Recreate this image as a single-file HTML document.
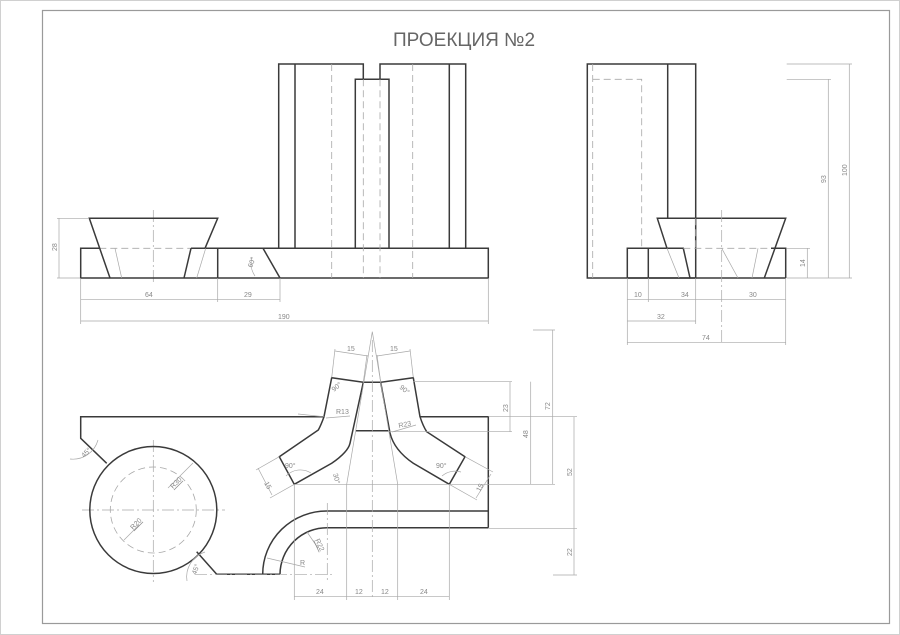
<!DOCTYPE html>
<html><head><meta charset="utf-8"><style>
html,body{margin:0;padding:0;background:#fff}
svg{display:block}
.b{stroke:#3a3a3a;stroke-width:1.5;fill:none}
.t{stroke:#a8a8a8;stroke-width:0.7;fill:none}
.d{stroke:#a8a8a8;stroke-width:0.8;fill:none;stroke-dasharray:7 4}
.c{stroke:#a8a8a8;stroke-width:0.7;fill:none;stroke-dasharray:12 3 2 3}
text{font-family:"Liberation Sans",sans-serif;fill:#888;font-size:7px}
</style></head><body>
<svg width="900" height="635" viewBox="0 0 900 635">
<rect x="0.5" y="0.5" width="899" height="634" fill="none" stroke="#d0d0d0" stroke-width="1"/>
<rect x="42.5" y="10.5" width="847" height="613" fill="none" stroke="#9a9a9a" stroke-width="1.2"/>
<text x="464" y="46" text-anchor="middle" style="font-size:19px;fill:#666">ПРОЕКЦИЯ №2</text>

<!-- FRONT VIEW -->
<line class="c" x1="153.3" y1="210" x2="153.3" y2="285"/>
<polyline class="b" points="99.3,248.3 80.7,248.3 80.7,278 488.3,278 488.3,248.3 191,248.3"/>
<line class="d" x1="99.3" y1="248.3" x2="191" y2="248.3"/>
<line class="b" x1="217.7" y1="248.3" x2="217.7" y2="278"/>
<polyline class="b" points="110,278 89.3,218.3 217.7,218.3 205,248.3"/>
<line class="b" x1="191" y1="248.3" x2="184" y2="278"/>
<line class="t" x1="115" y1="248.3" x2="121.7" y2="278"/>
<line class="t" x1="205.7" y1="248.3" x2="196.7" y2="278"/>
<line class="b" x1="263" y1="248.3" x2="280" y2="278"/>
<path class="t" d="M252,257 A22,22 0 0 0 255,276"/>
<text transform="translate(252,268) rotate(-70)">60°</text>
<polyline class="b" points="278.7,248.3 278.7,64 363.3,64 363.3,79.3 380,79.3 380,64 465.7,64 465.7,248.3"/>
<line class="b" x1="295" y1="64" x2="295" y2="248.3"/>
<line class="b" x1="449.3" y1="64" x2="449.3" y2="248.3"/>
<polyline class="b" points="355.3,248.3 355.3,79.3 389,79.3 389,248.3"/>
<line class="d" x1="331.7" y1="64" x2="331.7" y2="278"/>
<line class="d" x1="412.7" y1="64" x2="412.7" y2="278"/>
<line class="d" x1="363.3" y1="79.3" x2="363.3" y2="278"/>
<line class="d" x1="380" y1="79.3" x2="380" y2="278"/>
<!-- dims front -->
<line class="t" x1="57" y1="218.3" x2="89" y2="218.3"/>
<line class="t" x1="57" y1="278" x2="80" y2="278"/>
<line class="t" x1="59" y1="218.3" x2="59" y2="278"/>
<text transform="translate(57,251) rotate(-90)">28</text>
<line class="t" x1="80.7" y1="278" x2="80.7" y2="324"/>
<line class="t" x1="217.7" y1="278" x2="217.7" y2="302"/>
<line class="t" x1="280" y1="278" x2="280" y2="302"/>
<line class="t" x1="488.3" y1="278" x2="488.3" y2="324"/>
<line class="t" x1="80.7" y1="299.3" x2="280" y2="299.3"/>
<line class="t" x1="80.7" y1="321" x2="488.3" y2="321"/>
<text x="145" y="297">64</text><text x="244" y="297">29</text><text x="278" y="319">190</text>

<!-- SIDE VIEW -->
<rect class="b" x="587.3" y="64" width="108.4" height="214"/>
<line class="b" x1="667.7" y1="64" x2="667.7" y2="218.3"/>
<line class="d" x1="592.7" y1="64" x2="592.7" y2="278"/>
<polyline class="d" points="592.7,79.3 641.7,79.3 641.7,248.3"/>
<polyline class="b" points="627.3,278 627.3,248.3 683.3,248.3 690,278"/>
<line class="b" x1="648.3" y1="248.3" x2="648.3" y2="278"/>
<line class="b" x1="627.3" y1="278" x2="785.7" y2="278"/>
<polyline class="b" points="667,248.3 657.3,218.3 785.7,218.3 764.3,278"/>
<polyline class="b" points="771,248.3 785.7,248.3 785.7,278"/>
<line class="d" x1="683.3" y1="248.3" x2="771" y2="248.3"/>
<line class="d" x1="695.7" y1="218.3" x2="695.7" y2="248.3"/>
<line class="c" x1="721.7" y1="210" x2="721.7" y2="345"/>
<line class="t" x1="667" y1="248.3" x2="679" y2="278"/>
<line class="t" x1="721.7" y1="248.3" x2="738" y2="278"/>
<line class="t" x1="758" y1="248.3" x2="752" y2="278"/>
<line class="t" x1="786.7" y1="248.3" x2="810" y2="248.3"/>
<line class="t" x1="786.7" y1="278" x2="852" y2="278"/>
<line class="t" x1="786.7" y1="64" x2="852" y2="64"/>
<line class="t" x1="786.7" y1="79.3" x2="831" y2="79.3"/>
<line class="t" x1="807.3" y1="248.3" x2="807.3" y2="278"/>
<line class="t" x1="828.3" y1="79.3" x2="828.3" y2="278"/>
<line class="t" x1="849.3" y1="64" x2="849.3" y2="278"/>
<text transform="translate(805,267) rotate(-90)">14</text>
<text transform="translate(826,183) rotate(-90)">93</text>
<text transform="translate(847,176) rotate(-90)">100</text>
<line class="t" x1="627.3" y1="278" x2="627.3" y2="345"/>
<line class="t" x1="648.3" y1="278" x2="648.3" y2="302"/>
<line class="t" x1="695.7" y1="278" x2="695.7" y2="324"/>
<line class="t" x1="785.7" y1="278" x2="785.7" y2="345"/>
<line class="t" x1="627.3" y1="299.3" x2="785.7" y2="299.3"/>
<line class="t" x1="627.3" y1="321" x2="695.7" y2="321"/>
<line class="t" x1="627.3" y1="342.7" x2="785.7" y2="342.7"/>
<text x="634" y="297">10</text><text x="681" y="297">34</text><text x="749" y="297">30</text>
<text x="657" y="319">32</text><text x="702" y="340">74</text>

<!-- TOP VIEW -->
<line class="c" x1="82" y1="510" x2="225" y2="510"/>
<line class="c" x1="153.3" y1="440" x2="153.3" y2="582"/>
<circle class="b" cx="153.3" cy="510" r="63.5"/>
<circle class="d" cx="153.3" cy="510" r="43"/>
<polyline class="b" points="106.7,463.3 80.7,438.3 80.7,416.7 324,416.7"/>
<path class="b" d="M324,416.7 Q321,425 318.3,430 L279.3,456.7 L294.3,484.3 L331.7,463.3 Q348,452 350,443.3 L363.3,382.3 L331.7,377.7 L324,416.7"/>
<path class="b" d="M420,416.7 Q423,426 426.7,431.7 L465,456.7 L449.3,484.3 L413.3,463.3 Q394,450 390,433 L380.7,382.3 L413.3,377.7 L420,416.7"/>
<polyline class="b" points="363.3,382.3 380.7,382.3"/>
<line class="b" x1="356" y1="430.7" x2="388.3" y2="430.7"/>
<polyline class="b" points="420,416.7 488.3,416.7 488.3,527.7"/>
<path class="b" d="M196.7,551.7 L216.7,574.3 L262.7,574.3 A64,63.3 0 0 1 327.3,511 L488.3,511"/>
<path class="b" d="M280,574.3 L262.7,574.3 M280,574.3 A47,47 0 0 1 327.3,527.7 L488.3,527.7"/>
<line class="c" x1="327.3" y1="503" x2="327.3" y2="580"/>
<line class="c" x1="195" y1="574.3" x2="334" y2="574.3"/>
<!-- construction -->
<line class="c" x1="372.3" y1="340" x2="372.3" y2="600"/>
<polyline class="t" points="346.7,600 346.7,484.3 372.3,331.7 397.7,484.3 397.7,600"/>
<line class="t" x1="294.3" y1="484.3" x2="490" y2="484.3"/>
<line class="t" x1="294.3" y1="484.3" x2="294.3" y2="600"/>
<line class="t" x1="449.3" y1="484.3" x2="449.3" y2="600"/>
<line class="t" x1="294.3" y1="596.7" x2="449.3" y2="596.7"/>
<text x="316" y="594">24</text><text x="355" y="594">12</text><text x="381" y="594">12</text><text x="420" y="594">24</text>
<line class="t" x1="413.3" y1="381.7" x2="512" y2="381.7"/>
<line class="t" x1="388.3" y1="431.7" x2="512" y2="431.7"/>
<line class="t" x1="488.3" y1="416.7" x2="577" y2="416.7"/>
<line class="t" x1="533" y1="330" x2="555" y2="330"/>
<line class="t" x1="488.3" y1="528.3" x2="577" y2="528.3"/>
<line class="t" x1="553" y1="575" x2="577" y2="575"/>
<line class="t" x1="490" y1="484.3" x2="555" y2="484.3"/>
<line class="t" x1="510" y1="381.7" x2="510" y2="431.7"/>
<line class="t" x1="530.7" y1="381.7" x2="530.7" y2="484.3"/>
<line class="t" x1="552.7" y1="330" x2="552.7" y2="484.3"/>
<line class="t" x1="574" y1="416.7" x2="574" y2="575"/>
<text transform="translate(508,412) rotate(-90)">23</text>
<text transform="translate(528,438) rotate(-90)">48</text>
<text transform="translate(550,410) rotate(-90)">72</text>
<text transform="translate(572,476) rotate(-90)">52</text>
<text transform="translate(572,556) rotate(-90)">22</text>
<!-- top 15 dims -->
<line class="t" x1="331.7" y1="377.7" x2="335" y2="349"/>
<line class="t" x1="363.3" y1="382.3" x2="367" y2="355"/>
<line class="t" x1="335" y1="351" x2="368" y2="356"/>
<line class="t" x1="413.3" y1="377.7" x2="410" y2="349"/>
<line class="t" x1="380.7" y1="382.3" x2="377" y2="355"/>
<line class="t" x1="377" y1="356" x2="410" y2="351"/>
<text x="347" y="351">15</text><text x="390" y="351">15</text>
<line class="t" x1="298" y1="414" x2="324" y2="416.7"/>
<line class="t" x1="326" y1="418" x2="350" y2="416"/>
<text x="336" y="414">R13</text>
<line class="t" x1="392" y1="432" x2="416" y2="425"/>
<text x="399" y="428" transform="rotate(-12 399 428)">R23</text>
<text x="334" y="392" transform="rotate(-40 334 392)">90°</text>
<text x="399" y="388" transform="rotate(40 399 388)">90°</text>
<text x="285" y="468">90°</text><text x="436" y="468">90°</text>
<text x="333" y="474" transform="rotate(75 333 474)">30°</text>
<path class="t" d="M286,476 A20,20 0 0 1 311,473"/>
<path class="t" d="M442,476 A20,20 0 0 1 461,472"/>
<line class="t" x1="279.3" y1="456.7" x2="256" y2="470"/>
<line class="t" x1="294.3" y1="484.3" x2="270" y2="498"/>
<line class="t" x1="258" y1="468" x2="272" y2="495"/>
<text transform="translate(264,483) rotate(62)">15</text>
<line class="t" x1="465" y1="456.7" x2="493" y2="472"/>
<line class="t" x1="449.3" y1="484.3" x2="477" y2="500"/>
<line class="t" x1="491" y1="474" x2="476" y2="498"/>
<text transform="translate(480,492) rotate(-62)">15</text>
<line class="t" x1="168" y1="488" x2="193" y2="463"/>
<text transform="translate(173,489) rotate(-45)" style="text-decoration:underline">R30</text>
<line class="t" x1="124" y1="540" x2="139" y2="525"/>
<text transform="translate(133,530) rotate(-45)" style="text-decoration:underline">R20</text>
<path class="t" d="M70,459 A26,26 0 0 0 98,440"/>
<text transform="translate(84,458) rotate(-45)">45°</text>
<path class="t" d="M187,581 A26,26 0 0 1 205,552"/>
<text transform="translate(196,575) rotate(-70)">45°</text>
<line class="t" x1="307" y1="532" x2="318" y2="548"/>
<text transform="translate(315,540) rotate(65)" style="text-decoration:underline">R22</text>
<line class="t" x1="267" y1="558" x2="305" y2="567"/>
<text x="300" y="565">R</text>
</svg>
</body></html>
